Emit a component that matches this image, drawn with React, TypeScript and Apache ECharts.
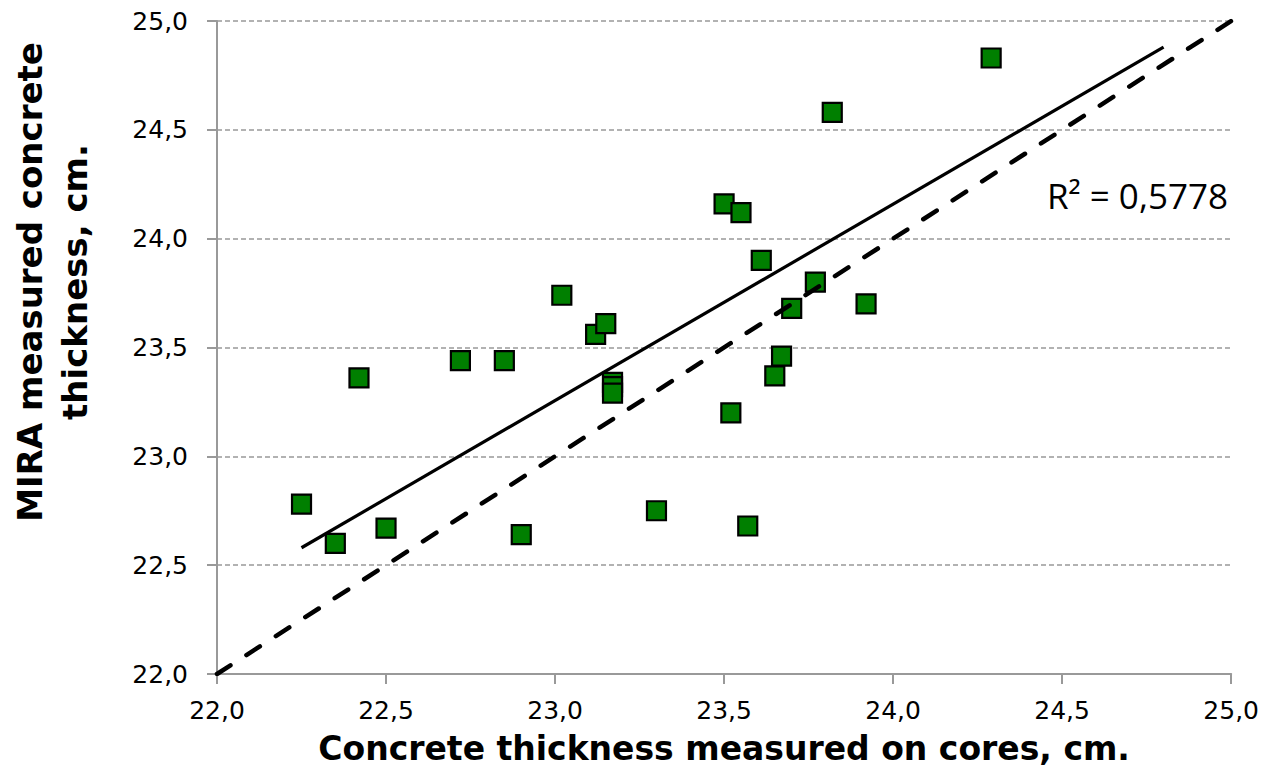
import React, { useEffect, useRef } from 'react';
import * as echarts from 'echarts';

// Core-measured thickness (x) vs. MIRA-measured thickness (y), cm
const coreThickness = [
  22.25, 22.35, 22.42, 22.5, 22.72, 22.85, 22.9, 23.02, 23.12, 23.15, 23.17, 23.17, 23.17,
  23.3, 23.5, 23.52, 23.55, 23.57, 23.61, 23.65, 23.67, 23.7, 23.77, 23.82, 23.92, 24.29,
];
const miraThickness = [
  22.78, 22.6, 23.36, 22.67, 23.44, 23.44, 22.64, 23.74, 23.56, 23.61, 23.34, 23.32, 23.29,
  22.75, 24.16, 23.2, 24.12, 22.68, 23.9, 23.37, 23.46, 23.68, 23.8, 24.58, 23.7, 24.83,
];

// Linear trend line end points
const trendX = [22.25, 24.8];
const trendY = [22.58, 24.88];

// Line of equality (y = x)
const equalityX = [22, 25];
const equalityY = [22, 25];

const rSquaredText = 'R² = 0,5778';
const axisMin = 22;
const axisMax = 25;
const axisStep = 0.5;
const xTitle = 'Concrete thickness measured on cores, cm.';
const yTitle = 'MIRA measured concrete\nthickness, cm.';

const fmt = (v: number) => v.toFixed(1).replace('.', ',');

export default function App() {
  const ref = useRef<HTMLDivElement>(null);

  useEffect(() => {
    const chart = echarts.init(ref.current!, null, { renderer: 'svg' });
    const axisGray = '#999999';
    const labelStyle = {
      color: '#000',
      fontFamily: '"DejaVu Sans", Verdana, sans-serif',
      fontSize: 25,
    };

    chart.setOption({
      animation: false,
      backgroundColor: '#ffffff',
      grid: { left: 217, right: 29, top: 21, bottom: 105, containLabel: false },
      xAxis: {
        type: 'value',
        min: axisMin,
        max: axisMax,
        interval: axisStep,
        name: xTitle,
        nameLocation: 'middle',
        nameGap: 58,
        nameTextStyle: {
          color: '#000',
          fontFamily: '"DejaVu Sans", Verdana, sans-serif',
          fontWeight: 'bold',
          fontSize: 33,
        },
        axisLine: { show: true, lineStyle: { color: axisGray, width: 2 } },
        axisTick: { show: true, inside: false, length: 10, lineStyle: { color: axisGray, width: 2 } },
        axisLabel: { ...labelStyle, margin: 24, formatter: fmt },
        splitLine: { show: false },
      },
      yAxis: {
        type: 'value',
        min: axisMin,
        max: axisMax,
        interval: axisStep,
        axisLine: { show: true, lineStyle: { color: axisGray, width: 2 } },
        axisTick: { show: true, inside: false, length: 10, lineStyle: { color: axisGray, width: 2 } },
        axisLabel: { ...labelStyle, margin: 29, formatter: fmt },
        splitLine: { show: true, lineStyle: { color: axisGray, width: 1.5, type: [5, 3] } },
      },
      graphic: [
        {
          type: 'text',
          x: 52,
          y: 282,
          rotation: Math.PI / 2,
          style: {
            text: yTitle,
            fill: '#000',
            fontFamily: '"DejaVu Sans", Verdana, sans-serif',
            fontWeight: 'bold',
            fontSize: 34,
            lineHeight: 45,
            align: 'center',
            verticalAlign: 'middle',
          },
        },
        {
          type: 'text',
          x: 1228,
          y: 195,
          style: {
            text: rSquaredText,
            fill: '#000',
            fontFamily: '"Open Sans", "Noto Sans", sans-serif',
            fontSize: 35,
            align: 'right',
            verticalAlign: 'middle',
          },
        },
      ],
      series: [
        {
          type: 'scatter',
          z: 2,
          symbol: 'rect',
          symbolSize: 19,
          itemStyle: { color: '#007f00', borderColor: '#000', borderWidth: 2.2, opacity: 1 },
          data: coreThickness.map((x, i) => [x, miraThickness[i]]),
        },
        {
          type: 'line',
          z: 3,
          symbol: 'none',
          silent: true,
          lineStyle: { color: '#000', width: 3.2 },
          data: trendX.map((x, i) => [x, trendY[i]]),
        },
        {
          type: 'line',
          z: 3,
          symbol: 'none',
          silent: true,
          lineStyle: { color: '#000', width: 4.5, type: [16, 19], cap: 'round' },
          data: equalityX.map((x, i) => [x, equalityY[i]]),
        },
      ],
    });

    return () => chart.dispose();
  }, []);

  return (
    <div
      ref={ref}
      style={{ position: 'fixed', left: 0, top: 0, width: 1262, height: 779, background: '#fff' }}
    />
  );
}
